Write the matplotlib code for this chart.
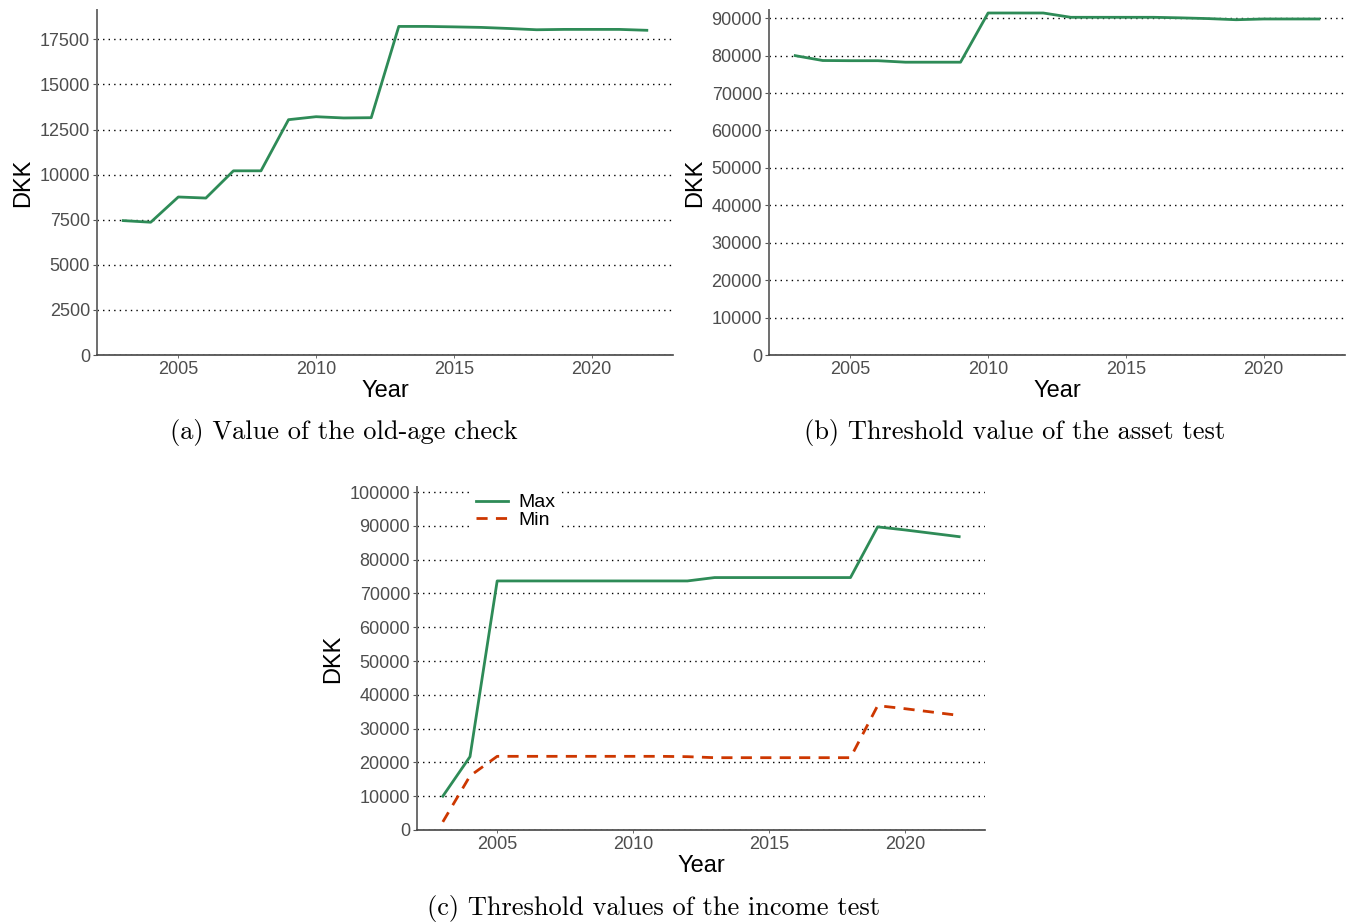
# -*- coding: UTF-8 -*-
import numpy as np
import matplotlib
matplotlib.use("Agg")
import matplotlib.pyplot as plt

years = np.arange(2003, 2023)

# (a) old-age check, DKK
check = [7450, 7360, 8760, 8700, 10210, 10210, 13045, 13210, 13140, 13155,
         18215, 18215, 18190, 18160, 18100, 18030, 18050, 18050, 18050, 18000]

# (b) asset test threshold, DKK
asset = [80000, 78700, 78650, 78650, 78250, 78250, 78250, 91400, 91400, 91400,
         90250, 90250, 90250, 90250, 90100, 89900, 89600, 89800, 89800, 89800]

# (c) income test thresholds, DKK
inc_max = [10000, 21700, 73700, 73700, 73700, 73700, 73700, 73700, 73700, 73700,
           74700, 74700, 74700, 74700, 74700, 74700, 89700, 88800, 87800, 86800]
inc_min = [2400, 16000, 21800, 21800, 21800, 21800, 21800, 21800, 21800, 21700,
           21400, 21400, 21400, 21400, 21400, 21400, 36800, 35900, 34900, 33900]

yticks_a = np.arange(0, 17501, 2500)
yticks_b = np.arange(0, 90001, 10000)
yticks_c = np.arange(0, 100001, 10000)
xticks = [2005, 2010, 2015, 2020]

GREEN = "#2E8B57"
RED = "#CD3700"
SANS = ["Liberation Sans", "DejaVu Sans"]


def style(ax, yticks, ylim):
    ax.set_xlim(2002.05, 2022.95)
    ax.set_ylim(*ylim)
    ax.set_xticks(xticks)
    ax.set_yticks(yticks)
    for s in ["top", "right"]:
        ax.spines[s].set_visible(False)
    ax.spines["left"].set_color("#6e6e6e")
    ax.spines["left"].set_linewidth(1.4)
    ax.spines["bottom"].set_color("#444444")
    ax.spines["bottom"].set_linewidth(1.2)
    ax.tick_params(axis="y", length=3, width=0.8, color="#555555",
                   labelsize=13, labelcolor="#4d4d4d", pad=2)
    ax.tick_params(axis="x", length=2, width=0.6, color="#555555",
                   labelsize=13, labelcolor="#4d4d4d", pad=2)
    for lab in ax.get_xticklabels() + ax.get_yticklabels():
        lab.set_family(SANS)
    ax.yaxis.grid(True, linestyle=(0, (1, 3)), color="black", linewidth=1.0)
    ax.set_axisbelow(True)
    ax.set_xlabel("Year", fontsize=17, family=SANS, labelpad=2)
    ax.set_ylabel("DKK", fontsize=17, family=SANS, labelpad=4)


fig = plt.figure(figsize=(13.54, 9.24), dpi=100)

ax1 = fig.add_axes([97/1354, 1 - 355/924, 576/1354, 345/924])
ax1.plot(years, check, color=GREEN, lw=2)
style(ax1, yticks_a, (0, 19125))

ax2 = fig.add_axes([769/1354, 1 - 355/924, 576/1354, 345/924])
ax2.plot(years, asset, color=GREEN, lw=2)
style(ax2, yticks_b, (0, 92200))

ax3 = fig.add_axes([417/1354, 1 - 830/924, 568/1354, 343/924])
ax3.plot(years, inc_max, color=GREEN, lw=2, label="Max")
ax3.plot(years, inc_min, color=RED, lw=2, ls=(0, (4, 3)), label="Min")
style(ax3, yticks_c, (0, 101500))
leg = ax3.legend(loc="upper left", bbox_to_anchor=(0.08, 1.02), frameon=True,
                 prop={"family": SANS, "size": 14},
                 handlelength=1.65, handletextpad=0.55, labelspacing=0.0,
                 borderpad=0.2)
leg.get_frame().set_edgecolor("none")
leg.get_frame().set_facecolor("white")
leg.get_frame().set_alpha(1)

fig.text(344/1354, 1 - 433/924, "(a) Value of the old-age check",
         ha="center", va="center", fontsize=19, family="cmr10")
fig.text(1015/1354, 1 - 433/924, "(b) Threshold value of the asset test",
         ha="center", va="center", fontsize=19, family="cmr10")
fig.text(654/1354, 1 - 908/924, "(c) Threshold values of the income test",
         ha="center", va="center", fontsize=19, family="cmr10")

fig.savefig("out.png", dpi=100)
